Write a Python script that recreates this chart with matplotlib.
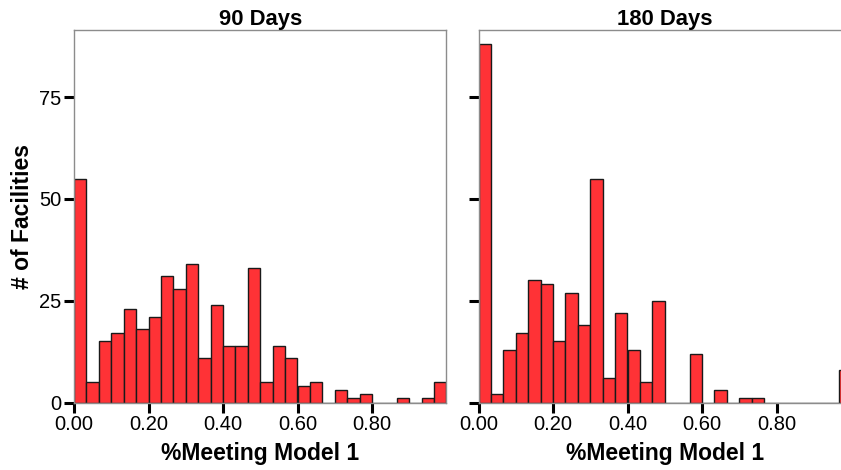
import numpy as np
import matplotlib
matplotlib.use('Agg')
import matplotlib.pyplot as plt

plt.rcParams['font.family'] = ['Liberation Sans', 'DejaVu Sans']

# 30 equal bins over [0, 1]
nBins = 30
edges = np.linspace(0., 1., nBins + 1)

counts90 = [55, 5, 15, 17, 23, 18, 21, 31, 28, 34,
            11, 24, 14, 14, 33, 5, 14, 11, 4, 5,
            0, 3, 1, 2, 0, 0, 1, 0, 1, 5]
counts180 = [88, 2, 13, 17, 30, 29, 15, 27, 19, 55,
             6, 22, 13, 5, 25, 0, 0, 12, 0, 3,
             0, 1, 1, 0, 0, 0, 0, 0, 0, 8]
titles = ['90 Days', '180 Days']
xTicks = [0.0, 0.2, 0.4, 0.6, 0.8]
yTicks = [0, 25, 50, 75]

W, H = 841, 470
fig = plt.figure(figsize=(W/100, H/100), dpi=100)

axW = 372.5/W
axH = 372.5/H
axB = (H - 402.5)/H
ax1 = fig.add_axes([74/W, axB, axW, axH])
ax2 = fig.add_axes([478.5/W, axB, axW, axH])

for ax, cnt, ttl in zip([ax1, ax2], [counts90, counts180], titles):
    ax.bar(edges[:-1], cnt, width=np.diff(edges), align='edge',
           color='#ff3236', edgecolor='#1a1a1a', linewidth=1.0)
    ax.set_xlim(0, 1)
    ax.set_ylim(0, 91.5)
    ax.set_xticks(xTicks)
    ax.set_xticklabels(['%.2f' % t for t in xTicks])
    ax.set_yticks(yTicks)
    for s in ax.spines.values():
        s.set_color('#8c8c8c')
        s.set_linewidth(1.0)
    ax.tick_params(direction='out', length=7.5, width=2.2, color='black',
                   labelsize=14.5, pad=1.5)
    ax.set_title(ttl, fontsize=15.8, fontweight='bold', pad=2)
    ax.set_xlabel('%Meeting Model 1', fontsize=16.5, fontweight='bold', labelpad=6)

ax1.set_ylabel('# of Facilities', fontsize=16.5, fontweight='bold', labelpad=4)
ax2.tick_params(axis='y', labelleft=False)

fig.savefig('out.png', dpi=100)
